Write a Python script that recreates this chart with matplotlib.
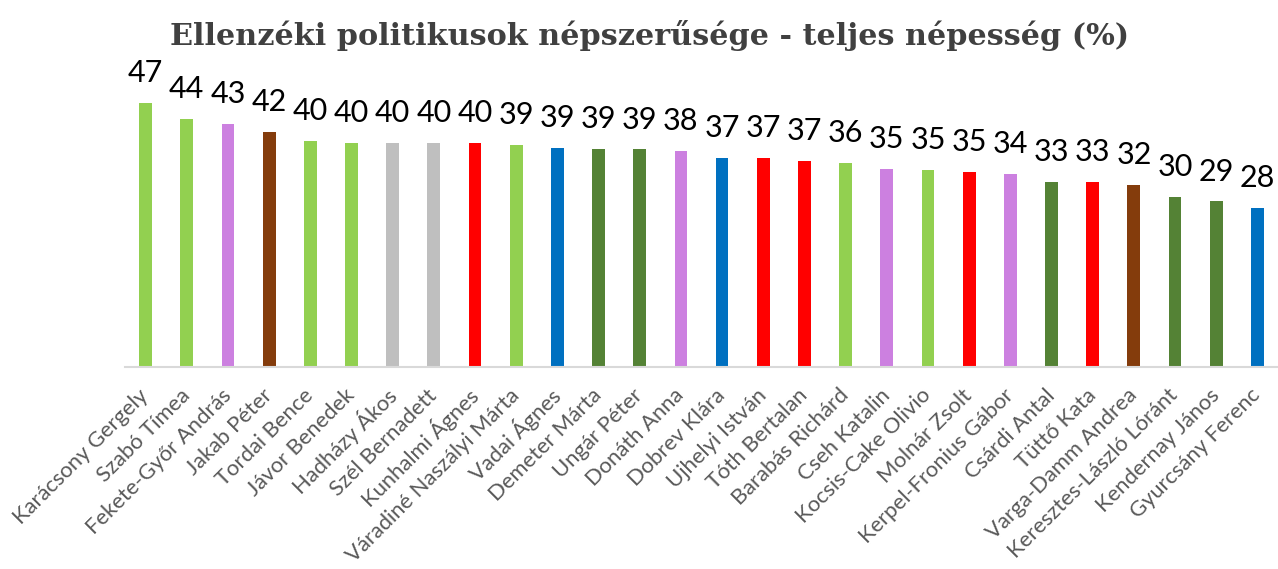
import matplotlib.pyplot as plt
import numpy as np

# Adatok
names = [
    'Karácsony Gergely', 'Szabó Tímea', 'Fekete-Győr András', 'Jakab Péter',
    'Tordai Bence', 'Jávor Benedek', 'Hadházy Ákos', 'Szél Bernadett',
    'Kunhalmi Ágnes', 'Váradiné Naszályi Márta', 'Vadai Ágnes', 'Demeter Márta',
    'Ungár Péter', 'Donáth Anna', 'Dobrev Klára', 'Ujhelyi István',
    'Tóth Bertalan', 'Barabás Richárd', 'Cseh Katalin', 'Kocsis-Cake Olivio',
    'Molnár Zsolt', 'Kerpel-Fronius Gábor', 'Csárdi Antal', 'Tüttő Kata',
    'Varga-Damm Andrea', 'Keresztes-László Lóránt', 'Kendernay János', 'Gyurcsány Ferenc',
]
values = [
    46.9, 44.0, 43.1, 41.7, 40.1, 39.7, 39.7, 39.7, 39.7, 39.4, 38.8, 38.7,
    38.6, 38.4, 37.1, 37.1, 36.6, 36.2, 35.1, 35.0, 34.6, 34.2, 32.8, 32.8,
    32.3, 30.2, 29.4, 28.2,
]
parties = [
    'pm', 'pm', 'mo', 'jb', 'pm', 'pm', 'fg', 'fg', 'msz', 'pm', 'dk', 'lmp',
    'lmp', 'mo', 'dk', 'msz', 'msz', 'pm', 'mo', 'pm', 'msz', 'mo', 'lmp', 'msz',
    'jb', 'lmp', 'lmp', 'dk',
]

colors = {
    'pm': '#92D050',
    'mo': '#CC80E0',
    'jb': '#843C0C',
    'fg': '#BFBFBF',
    'msz': '#FF0000',
    'dk': '#0070C0',
    'lmp': '#548235',
}

plt.rcParams['font.family'] = ['Lato', 'DejaVu Sans']

fig = plt.figure(figsize=(12.78, 5.69), dpi=100)
ax = fig.add_axes([125 / 1278, 201.7 / 569, 1153 / 1278, 282.2 / 569])

x = np.arange(len(names))
bars = ax.bar(x, values, width=0.31, color=[colors[p] for p in parties], zorder=2)

for xi, v in zip(x, values):
    ax.annotate(f'{v:.0f}', xy=(xi, v), xytext=(0, 15), textcoords='offset points',
                ha='center', va='baseline', fontsize=22, color='black',
                annotation_clip=False)

ax.set_xlim(-0.5, len(names) - 0.5)
ax.set_ylim(0, 50)
ax.set_xticks(x)
ax.set_xticklabels(names, rotation=45, ha='right', va='center',
                   rotation_mode='anchor', fontsize=15.8, color='#595959')
ax.tick_params(axis='x', length=0, pad=18)
ax.set_yticks([])

for s in ['top', 'right', 'left']:
    ax.spines[s].set_visible(False)
ax.spines['bottom'].set_color('#D9D9D9')
ax.spines['bottom'].set_linewidth(1.5)

fig.text(0.508, 0.938, 'Ellenzéki politikusok népszerűsége - teljes népesség (%)',
         ha='center', va='center', fontsize=21.8, fontweight='bold',
         color='#404040', family=['DejaVu Serif'])

fig.savefig('out.png', dpi=100)
